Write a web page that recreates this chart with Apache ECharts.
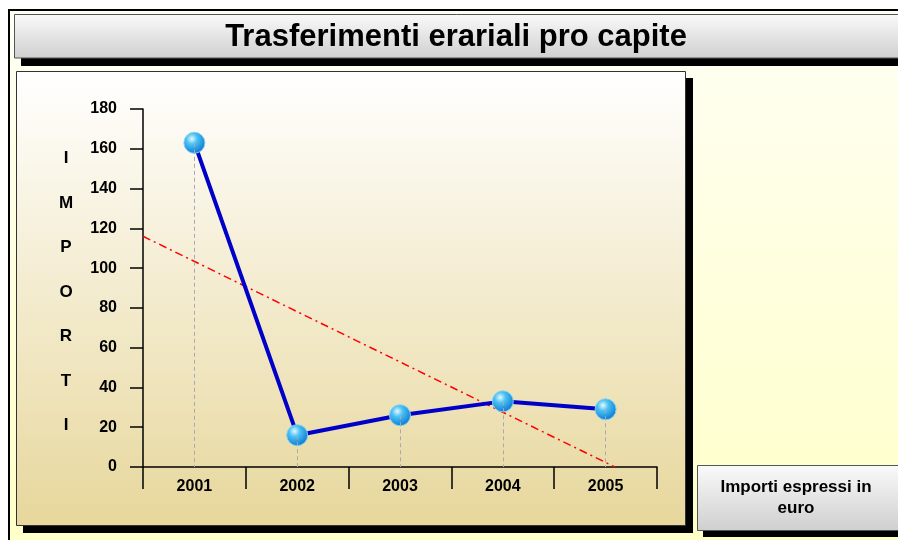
<!DOCTYPE html>
<html>
<head>
<meta charset="utf-8">
<script src="https://cdn.jsdelivr.net/npm/echarts@6/dist/echarts.min.js"></script>
<style>
  html, body { margin: 0; padding: 0; background: #fff; }
  #chart { width: 898px; height: 540px; }
</style>
</head>
<body>
<div id="chart"></div>
<script>
        var titolo = 'Trasferimenti erariali pro capite';
        var anni = ['2001', '2002', '2003', '2004', '2005'];
        var importi = [163, 16, 26, 33, 29];
        // linea di tendenza: [posizione categoria, valore]
        var tendenza = [[-0.5, 116], [4.09, 0]];
        var nomeAsse = ['I', 'M', 'P', 'O', 'R', 'T', 'I'];
        var notaUnita = 'Importi espressi in\neuro';

        var font = "'Liberation Sans', Arial, sans-serif";

        // linee tratteggiate verticali dal punto all'asse
        var verticali = [];
        for (var i = 0; i < anni.length; i++) {
            verticali.push([{ coord: [anni[i], importi[i]] }, { coord: [anni[i], 0] }]);
        }

        function grad(c1, c2) {
            return new echarts.graphic.LinearGradient(0, 0, 0, 1, [
                { offset: 0, color: c1 }, { offset: 1, color: c2 }
            ]);
        }

        var myChart = echarts.init(document.getElementById('chart'));
        myChart.setOption({
            backgroundColor: '#ffffff',
            animation: false,
            graphic: [
                // sfondo giallo con bordo nero
                { type: 'rect', z: -20, shape: { x: 9, y: 10, width: 900, height: 540 },
                  style: { fill: grad('#FFFFF4', '#FFFFC8'), stroke: '#000', lineWidth: 2 } },
                // riquadro titolo
                { type: 'rect', z: -19, shape: { x: 21, y: 20, width: 890, height: 46 }, style: { fill: '#000' } },
                { type: 'rect', z: -18, shape: { x: 14.5, y: 14.5, width: 890, height: 43.5 },
                  style: { fill: grad('#FAFAFA', '#CFCFCF'), stroke: '#555', lineWidth: 1 } },
                { type: 'text', z: 10, x: 456, y: 37,
                  style: { text: titolo, fill: '#000', font: 'bold 31px ' + font,
                           textAlign: 'center', textVerticalAlign: 'middle' } },
                // pannello del grafico
                { type: 'rect', z: -19, shape: { x: 23, y: 78, width: 670, height: 455 }, style: { fill: '#000' } },
                { type: 'rect', z: -18, shape: { x: 16.5, y: 71.5, width: 669, height: 454 },
                  style: { fill: grad('#FFFFFF', '#E7D79C'), stroke: '#333', lineWidth: 1 } },
                // nome asse verticale
                { type: 'text', z: 10, x: 66, y: 292,
                  style: { text: nomeAsse.join('\n'), fill: '#000', font: 'bold 17px ' + font,
                           lineHeight: 44.5, textAlign: 'center', textVerticalAlign: 'middle' } },
                // riquadro unità
                { type: 'rect', z: -19, shape: { x: 703, y: 471, width: 200, height: 66 }, style: { fill: '#000' } },
                { type: 'rect', z: -18, shape: { x: 697.5, y: 465.5, width: 210, height: 65 },
                  style: { fill: grad('#FAFAFA', '#CFCFCF'), stroke: '#555', lineWidth: 1 } },
                { type: 'text', z: 10, x: 796, y: 498,
                  style: { text: notaUnita, fill: '#000', font: 'bold 17px ' + font,
                           lineHeight: 21, textAlign: 'center', textVerticalAlign: 'middle' } }
            ],
            grid: { left: 143, right: 241, top: 109, bottom: 73 },
            xAxis: [
                {
                    type: 'category',
                    data: anni,
                    boundaryGap: true,
                    axisLine: { show: true, lineStyle: { color: '#000', width: 1.5 } },
                    axisTick: { show: true, interval: 0, alignWithLabel: false, length: 22,
                                lineStyle: { color: '#000', width: 1.5 } },
                    axisLabel: { color: '#000', fontWeight: 'bold', fontSize: 16, fontFamily: font, margin: 12 },
                    splitLine: { show: false }
                },
                { type: 'value', min: -0.5, max: 4.5, show: false }
            ],
            yAxis: {
                type: 'value',
                min: 0,
                max: 180,
                interval: 20,
                axisLine: { show: true, onZero: false, lineStyle: { color: '#000', width: 1.5 } },
                axisTick: { show: true, length: 13, lineStyle: { color: '#000', width: 1.5 } },
                axisLabel: { color: '#000', fontWeight: 'bold', fontSize: 16, fontFamily: font, margin: 26 },
                splitLine: { show: false }
            },
            series: [
                {
                    name: 'verticali',
                    type: 'line',
                    data: [],
                    z: 1,
                    markLine: {
                        silent: true,
                        symbol: ['none', 'none'],
                        label: { show: false },
                        lineStyle: { color: '#A8A8B8', width: 1, type: [4, 3] },
                        data: verticali
                    }
                },
                {
                    name: 'tendenza',
                    type: 'line',
                    xAxisIndex: 1,
                    data: tendenza,
                    symbol: 'none',
                    z: 2,
                    lineStyle: { color: '#FF0000', width: 1.5, type: [8, 4, 2, 4] }
                },
                {
                    name: 'importi',
                    type: 'line',
                    data: importi,
                    z: 3,
                    symbol: 'circle',
                    symbolSize: 21,
                    lineStyle: { color: '#0000C8', width: 4 },
                    itemStyle: {
                        color: {
                            type: 'radial', x: 0.38, y: 0.32, r: 0.7,
                            colorStops: [
                                { offset: 0, color: '#E4F8FF' },
                                { offset: 0.35, color: '#4CC2F4' },
                                { offset: 1, color: '#0B78D0' }
                            ]
                        },
                        borderColor: '#7FD0F5',
                        borderWidth: 1
                    }
                }
            ]
        });
</script>
</body>
</html>
